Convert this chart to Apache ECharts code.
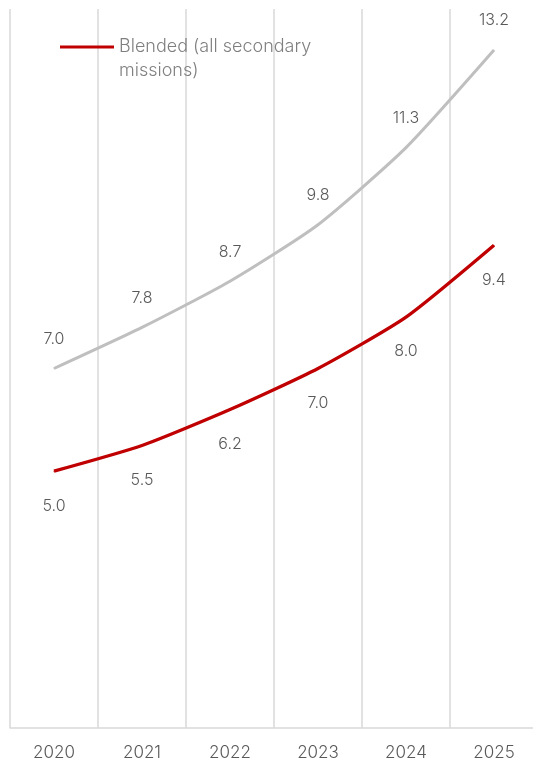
<!DOCTYPE html>
<html>
<head>
<meta charset="utf-8">
<script src="https://cdn.jsdelivr.net/npm/echarts@6/dist/echarts.min.js"></script>
<style>
  html, body { margin: 0; padding: 0; background: #fff; overflow: hidden; }
  #chart { width: 533px; height: 761px; }
</style>
</head>
<body>
<div id="chart"></div>
<script>
var years = ["2020", "2021", "2022", "2023", "2024", "2025"];
var upperValues = [7.0, 7.8, 8.7, 9.8, 11.3, 13.2];
var blendedValues = [5.0, 5.5, 6.2, 7.0, 8.0, 9.4];
var blendedName = "Blended (all secondary\nmissions)";

var myChart = echarts.init(document.getElementById("chart"));
var labelFont = "Inter, 'Noto Sans', sans-serif";

var option = {
  animation: false,
  legend: {
    data: [blendedName],
    left: 60,
    top: 11,
    padding: 0,
    itemWidth: 54,
    itemHeight: 3,
    icon: "rect",
    // empty first line so the icon sits level with the first text line
    formatter: function (name) {
      return "\n" + name;
    },
    textStyle: {
      color: "#7f7f7f",
      fontSize: 18,
      fontWeight: 300,
      fontFamily: labelFont,
      lineHeight: 24,
    },
  },
  grid: {
    left: 10,
    width: 528,
    top: 9,
    bottom: 33,
    outerBoundsMode: "none",
  },
  xAxis: {
    type: "category",
    data: years,
    boundaryGap: true,
    axisLine: {
      lineStyle: { color: "#d9d9d9", width: 1.5 },
    },
    axisTick: { show: false },
    splitLine: {
      show: true,
      lineStyle: { color: "#d9d9d9", width: 1.5 },
    },
    axisLabel: {
      color: "#595959",
      fontSize: 17,
      fontWeight: 300,
      fontFamily: labelFont,
      margin: 16,
    },
  },
  yAxis: {
    type: "value",
    min: 0,
    max: 14,
    show: false,
    splitLine: { show: false },
  },
  series: [
    {
      name: "Upper",
      type: "line",
      data: upperValues,
      smooth: 0.2,
      symbol: "circle",
      symbolSize: 1,
      lineStyle: { color: "#bfbfbf", width: 3 },
      itemStyle: { color: "#bfbfbf" },
      label: {
        show: true,
        position: "top",
        distance: 21,
        formatter: function (p) { return p.value.toFixed(1); },
        color: "#595959",
        fontSize: 16,
        fontWeight: 300,
        fontFamily: labelFont,
      },
    },
    {
      name: blendedName,
      type: "line",
      data: blendedValues,
      smooth: 0.2,
      symbol: "circle",
      symbolSize: 1,
      lineStyle: { color: "#c00000", width: 3.3 },
      itemStyle: { color: "#c00000" },
      label: {
        show: true,
        position: "bottom",
        distance: 26,
        formatter: function (p) { return p.value.toFixed(1); },
        color: "#595959",
        fontSize: 16,
        fontWeight: 300,
        fontFamily: labelFont,
      },
    },
  ],
};

myChart.setOption(option);
</script>
</body>
</html>
